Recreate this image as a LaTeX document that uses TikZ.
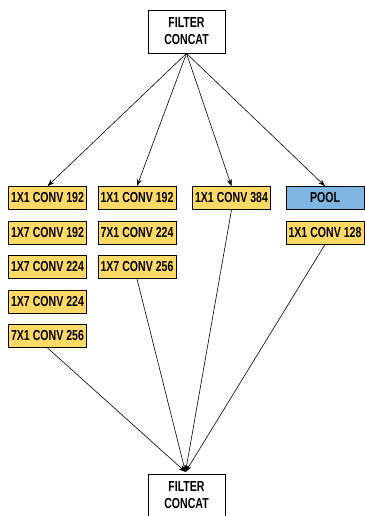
\documentclass[tikz,border=0pt]{standalone}
\usepackage{fontspec}
\setmainfont{Liberation Sans}[FakeStretch=0.73]
\usetikzlibrary{arrows.meta}
\definecolor{convfill}{HTML}{FFD966}
\definecolor{poolfill}{HTML}{7FB5E2}
\tikzset{
  convbox/.style={draw=black, line width=0.8pt, fill=convfill, minimum width=78pt,
    minimum height=23pt, inner sep=0pt, font=\bfseries\fontsize{14.5}{15}\selectfont},
  poolbox/.style={convbox, fill=poolfill},
  concatbox/.style={draw=black, line width=0.8pt, fill=white, minimum width=77pt,
    minimum height=43pt, inner sep=0pt, align=center,
    font=\bfseries\fontsize{14.5}{17}\selectfont},
  link/.style={draw=black, line width=0.6pt, -{Stealth[length=7pt,width=5pt]}}
}
\begin{document}
\begin{tikzpicture}[x=1pt,y=-1pt]
\useasboundingbox (0,0) rectangle (364,516);

% concatenation nodes
\node[concatbox] (top) at (186.5,31.5) {FILTER\\CONCAT};
\node[concatbox] (bot) at (186.5,495.5) {FILTER\\CONCAT};

% branch 1: factorised 7x7 stack
\node[convbox] (a1) at (47.5,198) {1X1 CONV 192};
\node[convbox] (a2) at (47.5,232.5) {1X7 CONV 192};
\node[convbox] (a3) at (47.5,267) {1X7 CONV 224};
\node[convbox] (a4) at (47.5,301.5) {1X7 CONV 224};
\node[convbox] (a5) at (47.5,336) {7X1 CONV 256};

% branch 2
\node[convbox] (b1) at (137,198) {1X1 CONV 192};
\node[convbox] (b2) at (137,232.5) {7X1 CONV 224};
\node[convbox] (b3) at (137,267) {1X7 CONV 256};

% branch 3
\node[convbox] (c1) at (231.5,198) {1X1 CONV 384};

% branch 4: pooling
\node[poolbox] (d1) at (325,198) {POOL};
\node[convbox] (d2) at (325,232.5) {1X1 CONV 128};

% fan-out
\foreach \t in {a1,b1,c1,d1}
  \draw[link] (top.south) -- (\t.north);

% fan-in
\coordinate (join) at (185.5,472);
\foreach \s in {a5,b3,c1,d2}
  \draw[link] (\s.south) -- (join);
\end{tikzpicture}
\end{document}
